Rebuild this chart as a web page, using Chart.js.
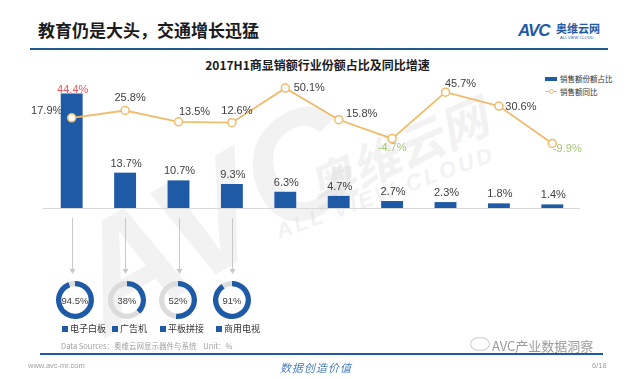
<!DOCTYPE html>
<html><head><meta charset="utf-8">
<script src="https://cdn.jsdelivr.net/npm/chart.js@4.4.0/dist/chart.umd.min.js"></script>
<style>
html,body{margin:0;padding:0;background:#fff;}
#page{position:relative;width:635px;height:379px;overflow:hidden;background:#fff;font-family:"Liberation Sans","Noto Sans CJK SC",sans-serif;}
.abs{position:absolute;white-space:nowrap;}
.cjk{font-family:"Noto Sans CJK SC",sans-serif;}
.wm{color:rgba(190,190,190,0.2);font-weight:bold;font-style:italic;transform-origin:center;}
</style></head><body>
<div id="page">
  <div class="abs wm" style="left:60px;top:130px;font-size:150px;font-family:'Liberation Sans';transform:rotate(-30deg);">AVC</div>
  <div class="abs wm cjk" style="left:300px;top:115px;font-size:48px;transform:rotate(-24deg);">奥维云网</div>
  <div class="abs wm" style="left:270px;top:180px;font-size:22px;font-family:'Liberation Sans';transform:rotate(-20deg);letter-spacing:3px;">ALL VIEW CLOUD</div>

  <div class="abs cjk" style="left:38px;top:17px;font-size:17px;font-weight:bold;color:#1b1b1b;">教育仍是大头，交通增长迅猛</div>
  <div class="abs" style="left:518px;top:21px;font-size:17px;font-weight:bold;font-style:italic;color:#1f5aa6;letter-spacing:-1px;">AVC</div>
  <div class="abs cjk" style="left:556px;top:20px;font-size:11px;font-weight:bold;color:#1f5aa6;">奥维云网</div>
  <div class="abs" style="left:560px;top:35px;font-size:4px;color:#1f5aa6;">ALL VIEW CLOUD</div>
  <div class="abs" style="left:30px;top:48px;width:578px;height:2px;background:#1f5a8a;"></div>
  <div class="abs cjk" style="left:0;top:56px;width:635px;text-align:center;font-size:12px;font-weight:bold;color:#1b1b1b;">2017H1商显销额行业份额占比及同比增速</div>

  <div class="abs" style="left:545px;top:77px;width:12px;height:4px;background:#1f5aa6;"></div>
  <div class="abs cjk" style="left:560px;top:73px;font-size:7.5px;color:#333;">销售额份额占比</div>
  <div class="abs" style="left:545px;top:91px;width:12px;height:1px;background:#f0bb6a;"></div>
  <div class="abs" style="left:549px;top:89px;width:3px;height:3px;border:1px solid #f0bb6a;border-radius:50%;background:#fff;"></div>
  <div class="abs cjk" style="left:560px;top:86px;font-size:7.5px;color:#333;">销售额同比</div>

  <canvas id="main" class="abs" width="635" height="379" style="left:0;top:0;"></canvas>
  <canvas id="d0" class="abs" width="44" height="44" style="left:53px;top:278px;"></canvas>
  <canvas id="d1" class="abs" width="44" height="44" style="left:105px;top:278px;"></canvas>
  <canvas id="d2" class="abs" width="44" height="44" style="left:156px;top:278px;"></canvas>
  <canvas id="d3" class="abs" width="44" height="44" style="left:210px;top:278px;"></canvas>

  <div id="dleg"></div>
  <div class="abs cjk" style="left:61px;top:340px;font-size:7.5px;color:#a0a0a0;">Data Sources：奥维云网显示器件与系统&nbsp;&nbsp;&nbsp;&nbsp;Unit：%</div>
  <div class="abs" style="left:40px;top:353px;width:563px;height:2px;background:#1f5aa6;"></div>
  <div class="abs" style="left:28px;top:361px;font-size:7.5px;color:#a0a0a0;">www.avc-mr.com</div>
  <div class="abs cjk" style="left:280px;top:359px;font-size:11px;font-style:italic;color:#4a7fc0;letter-spacing:1px;">数据创造价值</div>
  <div class="abs" style="left:592px;top:361px;font-size:7.5px;color:#a0a0a0;">6/18</div>
  <div class="abs" style="left:470px;top:337px;width:18px;height:12px;border:1px solid #ccc;border-radius:50%;"></div>
  <div class="abs cjk" style="left:492px;top:336px;font-size:13px;color:#9a9a9a;">AVC产业数据洞察</div>
</div>
<script>
const categories = ['电子白板','广告机','平板拼接','商用电视','交通','零售','金融','教育','医疗','其他'];
const shareValues = [44.4, 13.7, 10.7, 9.3, 6.3, 4.7, 2.7, 2.3, 1.8, 1.4];
const growthValues = [17.9, 25.8, 13.5, 12.6, 50.1, 15.8, -4.7, 45.7, 30.6, -9.9];
const donutLabels = ['电子白板','广告机','平板拼接','商用电视'];
const donutValues = [94.5, 38, 52, 91];

const BLUE = '#1f5aa6', TAN = '#f0bb6a', GRAY_TXT = '#404040';
const lineLabelOffsets = [[-25,-7],[5,-13],[16,-10],[5,-12],[24,0],[23,-6],[0,9],[15,-8],[22,1],[15,6]];

const labelPlugin = {
  id: 'labels',
  afterDatasetsDraw(chart) {
    const ctx = chart.ctx;
    const area = chart.chartArea;
    ctx.save();
    ctx.strokeStyle = '#d9d9d9'; ctx.lineWidth = 1;
    ctx.beginPath(); ctx.moveTo(area.left - 2, area.bottom + 0.5); ctx.lineTo(area.right + 1, area.bottom + 0.5); ctx.stroke();
    const bars = chart.getDatasetMeta(0).data;
    ctx.strokeStyle = '#c8c8c8'; ctx.fillStyle = '#c8c8c8';
    for (let i = 0; i < donutValues.length; i++) {
      const x = Math.round(bars[i].x) + 0.5;
      ctx.beginPath(); ctx.moveTo(x, area.bottom + 10); ctx.lineTo(x, area.bottom + 63); ctx.stroke();
      ctx.beginPath(); ctx.moveTo(x - 3, area.bottom + 61); ctx.lineTo(x + 3, area.bottom + 61); ctx.lineTo(x, area.bottom + 66); ctx.closePath(); ctx.fill();
    }
    ctx.font = '11px "Liberation Sans", Arial, sans-serif';
    ctx.textAlign = 'center';
    bars.forEach((b, i) => {
      ctx.fillStyle = i === 0 ? '#e8585a' : GRAY_TXT;
      ctx.textBaseline = 'middle';
      ctx.fillText(shareValues[i].toFixed(1) + '%', b.x + 1, i === 0 ? b.y - 3 : b.y - 9);
    });
    const pts = chart.getDatasetMeta(1).data;
    pts.forEach((p, i) => {
      const v = growthValues[i];
      ctx.fillStyle = v < 0 ? '#a4c878' : GRAY_TXT;
      ctx.textBaseline = 'middle';
      ctx.fillText(v.toFixed(1) + '%', p.x + lineLabelOffsets[i][0], p.y + lineLabelOffsets[i][1]);
    });
    ctx.restore();
  }
};

new Chart(document.getElementById('main'), {
  data: {
    labels: categories,
    datasets: [
      { type: 'bar', label: '销售额份额占比', data: shareValues, backgroundColor: BLUE, yAxisID: 'y',
        categoryPercentage: 1, barPercentage: 0.41, order: 2 },
      { type: 'line', label: '销售额同比', data: growthValues, borderColor: TAN, borderWidth: 1.8,
        pointRadius: 4, pointBackgroundColor: '#fff', pointBorderColor: TAN, pointBorderWidth: 1.5,
        yAxisID: 'y2', tension: 0, order: 1 }
    ]
  },
  options: {
    responsive: false, animation: false,
    layout: { padding: { left: 45, right: 56, top: 79, bottom: 171 } },
    plugins: { legend: { display: false }, tooltip: { enabled: false } },
    scales: {
      x: { display: false },
      y: { display: false, min: 0, max: 50 },
      y2: { display: false, min: -80, max: 60, position: 'right' }
    }
  },
  plugins: [labelPlugin]
});

const centerText = {
  id: 'center',
  afterDraw(chart) {
    const ctx = chart.ctx;
    const m = chart.getDatasetMeta(0).data[0];
    ctx.save();
    ctx.font = '9.5px "Liberation Sans", Arial, sans-serif';
    ctx.fillStyle = GRAY_TXT; ctx.textAlign = 'center'; ctx.textBaseline = 'middle';
    ctx.fillText(chart.data.datasets[0].data[0] + '%', m.x, m.y + 1);
    ctx.restore();
  }
};

donutValues.forEach((v, i) => {
  new Chart(document.getElementById('d' + i), {
    type: 'doughnut',
    data: { labels: [donutLabels[i], ''], datasets: [{ data: [v, 100 - v], backgroundColor: [BLUE, '#dcdcdc'], borderWidth: 0 }] },
    options: { responsive: false, animation: false, cutout: '72%',
      layout: { padding: 3 },
      plugins: { legend: { display: false }, tooltip: { enabled: false } } },
    plugins: [centerText]
  });
});

const legX = [62, 112, 160, 216];
const dleg = document.getElementById('dleg');
donutLabels.forEach((t, i) => {
  const sq = document.createElement('div');
  sq.className = 'abs';
  sq.style.cssText = `left:${legX[i]}px;top:326px;width:6px;height:6px;background:${BLUE};`;
  dleg.appendChild(sq);
  const tx = document.createElement('div');
  tx.className = 'abs cjk';
  tx.style.cssText = `left:${legX[i] + 8}px;top:322px;font-size:9px;color:#333;`;
  tx.textContent = t;
  dleg.appendChild(tx);
});
</script>
</body></html>
